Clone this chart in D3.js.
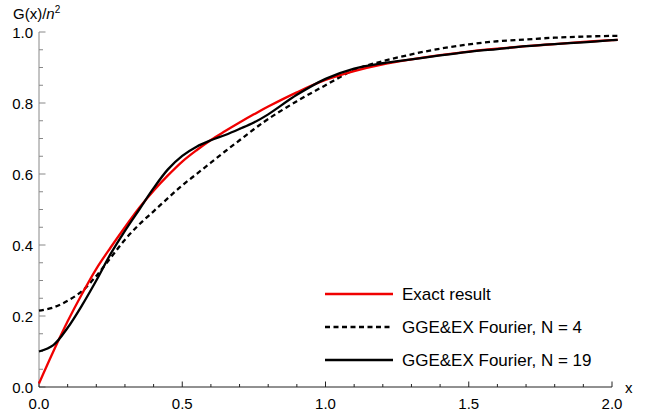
<!DOCTYPE html>
<html>
<head>
<meta charset="utf-8">
<script src="https://cdn.jsdelivr.net/npm/d3@7"></script>
<style>
  body { margin: 0; background: #fff; }
  text { font-family: "Liberation Sans", Arial, sans-serif; }
</style>
</head>
<body>
<div id="chart"></div>
<script>
// values
const xs = [0, 0.05, 0.1, 0.15, 0.2, 0.25, 0.3, 0.35, 0.4, 0.45, 0.5, 0.55, 0.6, 0.65, 0.7, 0.75, 0.8, 0.9, 1.0,
            1.1, 1.2, 1.3, 1.4, 1.5, 1.6, 1.7, 1.8, 1.9, 2.0, 2.02];
const exact = [0.01, 0.10, 0.185, 0.262, 0.333, 0.393, 0.45, 0.505, 0.553, 0.596, 0.635, 0.667, 0.696, 0.721, 0.745, 0.768, 0.79, 0.83, 0.865,
               0.89, 0.909, 0.923, 0.935, 0.945, 0.953, 0.96, 0.966, 0.972, 0.977, 0.978];
const fourier4 = [0.215, 0.224, 0.243, 0.27, 0.313, 0.364, 0.415, 0.458, 0.495, 0.532, 0.568, 0.6, 0.632, 0.664, 0.695, 0.726, 0.755, 0.805, 0.85,
                  0.893, 0.918, 0.937, 0.953, 0.965, 0.974, 0.979, 0.984, 0.987, 0.989, 0.989];
const fourier19 = [0.10, 0.118, 0.167, 0.23, 0.30, 0.375, 0.44, 0.50, 0.56, 0.613, 0.651, 0.677, 0.695, 0.71, 0.727, 0.745, 0.768, 0.823, 0.868,
                   0.897, 0.912, 0.923, 0.934, 0.944, 0.952, 0.96, 0.966, 0.971, 0.977, 0.978];

const xTicks = [0, 0.5, 1.0, 1.5, 2.0];
const yTicks = [0, 0.2, 0.4, 0.6, 0.8, 1.0];

const series = [
  {name: "Exact result", vals: exact, color: "#f00000", dash: null},
  {name: "GGE&EX Fourier, N = 4", vals: fourier4, color: "#000", dash: "5,3.5"},
  {name: "GGE&EX Fourier, N = 19", vals: fourier19, color: "#000", dash: null}
];

const width = 665, height = 418;
const svg = d3.select("#chart").append("svg")
  .attr("width", width).attr("height", height);

let x = d3.scaleLinear().domain([0, 2]).range([39, 612]);
let y = d3.scaleLinear().domain([0, 1]).range([387, 32]);

// y axis, ticks point inward
const yAx = svg.append("g").attr("stroke", "#888");
yAx.append("line").attr("x1", x(0)).attr("x2", x(0)).attr("y1", y(0)).attr("y2", y(1));
yAx.selectAll("line.minor")
  .data(d3.range(0, 1.0001, 0.05))
  .join("line")
  .attr("x1", x(0))
  .attr("x2", (d, i) => x(0) + (i % 4 === 0 ? 6.5 : 4))
  .attr("y1", d => y(d)).attr("y2", d => y(d));

svg.append("g").selectAll("text")
  .data(yTicks)
  .join("text")
  .attr("x", 33)
  .attr("y", d => y(d))
  .attr("text-anchor", "end")
  .attr("dominant-baseline", "central")
  .attr("font-size", 15)
  .text(d => d.toFixed(1));

// x axis
const xAx = svg.append("g").attr("stroke", "#222");
xAx.append("line").attr("x1", x(0)).attr("x2", x(2)).attr("y1", y(0)).attr("y2", y(0));
xAx.selectAll("line.minor")
  .data(d3.range(0, 2.0001, 0.1))
  .join("line")
  .attr("x1", d => x(d)).attr("x2", d => x(d))
  .attr("y1", y(0))
  .attr("y2", (d, i) => y(0) - (i % 5 === 0 ? 5.5 : 3));

svg.append("g").selectAll("text")
  .data(xTicks)
  .join("text")
  .attr("x", d => x(d))
  .attr("y", 403)
  .attr("text-anchor", "middle")
  .attr("dominant-baseline", "central")
  .attr("font-size", 15)
  .text(d => d.toFixed(1));

// axis labels
const yl = svg.append("text").attr("x", 13).attr("y", 19).attr("font-size", 15);
yl.append("tspan").text("G(x)/");
yl.append("tspan").attr("font-style", "italic").text("n");
yl.append("tspan").attr("font-size", 10).attr("dy", -6).text("2");

svg.append("text").attr("x", 625).attr("y", 393).attr("font-size", 15).text("x");

// curves
let line = d3.line()
  .x(d => x(d[0]))
  .y(d => y(d[1]))
  .curve(d3.curveCatmullRom.alpha(0.5));

const order = [series[1], series[0], series[2]];
svg.append("g").selectAll("path")
  .data(order)
  .join("path")
  .attr("fill", "none")
  .attr("stroke", d => d.color)
  .attr("stroke-width", 2.3)
  .attr("stroke-dasharray", d => d.dash)
  .attr("d", d => line(xs.map((v, i) => [v, d.vals[i]])));

// legend
const leg = svg.append("g");
series.forEach((s, i) => {
  let ly = 294 + i * 33;
  leg.append("line")
    .attr("x1", 325).attr("x2", 393)
    .attr("y1", ly).attr("y2", ly)
    .attr("stroke", s.color)
    .attr("stroke-width", 2.3)
    .attr("stroke-dasharray", s.dash);
  leg.append("text")
    .attr("x", 402).attr("y", ly)
    .attr("dominant-baseline", "central")
    .attr("font-size", 17)
    .text(s.name);
});
</script>
</body>
</html>
